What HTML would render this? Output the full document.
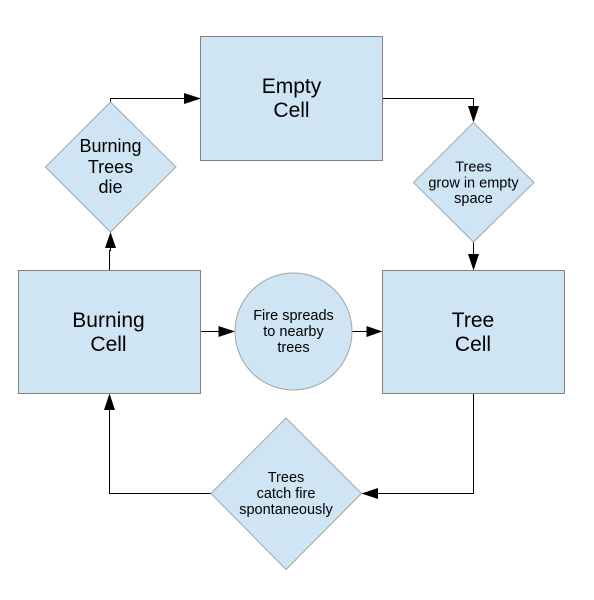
<!DOCTYPE html>
<html>
<head>
<meta charset="utf-8">
<style>
html,body{margin:0;padding:0;background:#fff}
svg{display:block}
text{font-family:"Liberation Sans",Arial,sans-serif;fill:#000;text-anchor:middle}
.big{font-size:21px}
.mid{font-size:18px}
.small{font-size:14.5px}
.box{fill:#cfe5f3;stroke:#808284;stroke-width:1}
.soft{fill:#cfe5f3;stroke:#a0a6ab;stroke-width:1}
.line{fill:none;stroke:#000;stroke-width:1}
</style>
</head>
<body>
<svg width="594" height="600" viewBox="0 0 594 600">
<rect width="594" height="600" fill="#fff"/>

<g>
<path class="line" d="M109.5 270V250.5H110.5V246"/>
<path d="M110.5 232L116 248H105Z"/>
<path class="line" d="M110.5 102V98.5H186"/>
<path d="M201 98.5L184 93V104Z"/>
<path class="line" d="M382 98.5H473.5V108"/>
<path d="M473.5 122.5L468 106H479Z"/>
<path class="line" d="M473.5 242V256"/>
<path d="M473.5 270.500L468 254H479Z"/>
<path class="line" d="M200 331.500H220"/>
<path d="M235 331.500L218.500 326V337Z"/>
<path class="line" d="M352 331.500H368"/>
<path d="M382.500 331.500L366.500 326V337Z"/>
<path class="line" d="M473.500 393V493.500H376"/>
<path d="M361.500 493.500L378 488V499Z"/>
<path class="line" d="M211 493.500H109.500V408"/>
<path d="M109.500 393.500L115 410H104Z"/>
</g>

<g>
<rect class="box" x="200.500" y="36.500" width="182" height="124"/>
<text class="big" x="291.500" y="93">Empty</text>
<text class="big" x="291.500" y="117">Cell</text>
</g>

<g>
<rect class="box" x="18.500" y="270.500" width="182" height="123"/>
<text class="big" x="108.500" y="327">Burning</text>
<text class="big" x="108.500" y="351">Cell</text>
</g>

<g>
<rect class="box" x="382.500" y="270.500" width="182" height="123"/>
<text class="big" x="473" y="327">Tree</text>
<text class="big" x="473" y="351">Cell</text>
</g>

<g>
<circle class="soft" cx="293.500" cy="331.500" r="58.500"/>
<text class="small" x="293.500" y="320">Fire spreads</text>
<text class="small" x="293.500" y="336">to nearby</text>
<text class="small" x="293.500" y="352">trees</text>
</g>

<g>
<polygon class="soft" points="110.500,102 176,167 110.500,232 45.500,167"/>
<text class="mid" x="110.500" y="152">Burning</text>
<text class="mid" x="110.500" y="173">Trees</text>
<text class="mid" x="110.500" y="193">die</text>
</g>

<g>
<polygon class="soft" points="473.500,122.500 534,182.500 473.500,242 413.500,182.500"/>
<text class="small" x="473.500" y="171.500">Trees</text>
<text class="small" x="473.500" y="187.500">grow in empty</text>
<text class="small" x="473.500" y="203">space</text>
</g>

<g>
<polygon class="soft" points="286,418 361.500,493.500 286,569.500 211,493.500"/>
<text class="small" x="286" y="482">Trees</text>
<text class="small" x="286" y="498">catch fire</text>
<text class="small" x="286" y="514">spontaneously</text>
</g>
</svg>
</body>
</html>
